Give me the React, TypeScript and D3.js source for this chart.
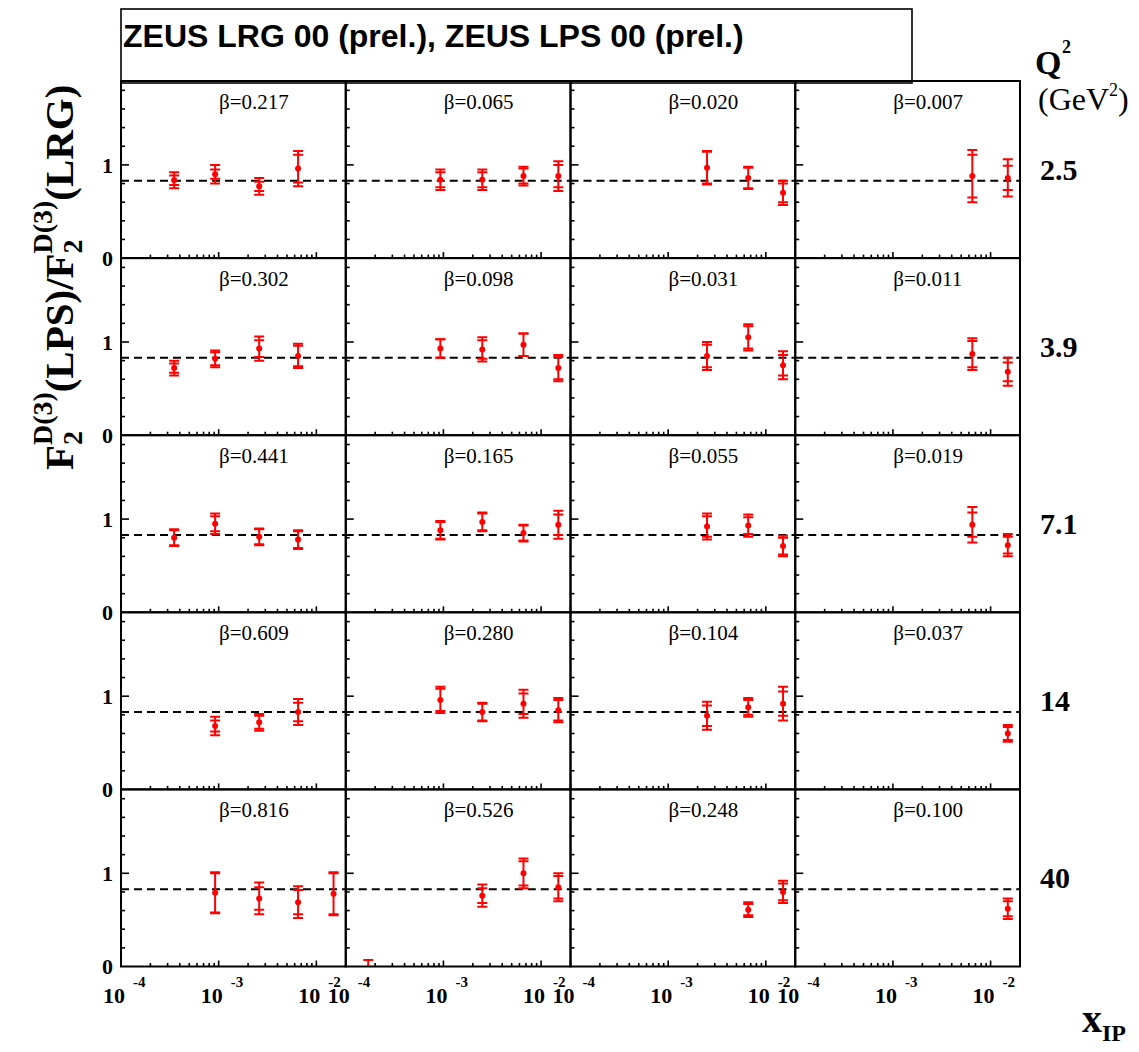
import React from 'react';
import * as d3 from 'd3';

// ---- chart data ----
const q2Labels = ['2.5', '3.9', '7.1', '14', '40'];
const betaLabels = [
  ['0.217', '0.065', '0.020', '0.007'],
  ['0.302', '0.098', '0.031', '0.011'],
  ['0.441', '0.165', '0.055', '0.019'],
  ['0.609', '0.280', '0.104', '0.037'],
  ['0.816', '0.526', '0.248', '0.100'],
];
// each point: [xIP, ratio LPS/LRG, stat error, total error]
const rowQ2_2p5 = [
  [[3.5e-4, 0.835, 0.05, 0.085], [9.2e-4, 0.9, 0.05, 0.1], [2.6e-3, 0.77, 0.05, 0.09], [6.5e-3, 0.96, 0.15, 0.19]],
  [[9.3e-4, 0.84, 0.08, 0.11], [2.5e-3, 0.84, 0.08, 0.11], [6.6e-3, 0.88, 0.08, 0.1], [1.5e-2, 0.88, 0.12, 0.16]],
  [[2.5e-3, 0.97, 0.17, 0.18], [6.6e-3, 0.86, 0.11, 0.12], [1.5e-2, 0.7, 0.1, 0.13]],
  [[6.5e-3, 0.88, 0.23, 0.28], [1.5e-2, 0.86, 0.13, 0.2]],
];
const rowQ2_3p9 = [
  [[3.5e-4, 0.72, 0.05, 0.08], [9.2e-4, 0.82, 0.07, 0.09], [2.6e-3, 0.93, 0.09, 0.13], [6.5e-3, 0.85, 0.11, 0.13]],
  [[9.3e-4, 0.93, 0.1, 0.1], [2.5e-3, 0.92, 0.1, 0.13], [6.6e-3, 0.97, 0.12, 0.12], [1.5e-2, 0.72, 0.12, 0.14]],
  [[2.5e-3, 0.85, 0.12, 0.15], [6.6e-3, 1.05, 0.12, 0.14], [1.5e-2, 0.75, 0.11, 0.15]],
  [[6.5e-3, 0.87, 0.14, 0.17], [1.5e-2, 0.68, 0.1, 0.15]],
];
const rowQ2_7p1 = [
  [[3.5e-4, 0.8, 0.08, 0.09], [9.2e-4, 0.95, 0.08, 0.11], [2.6e-3, 0.81, 0.08, 0.09], [6.5e-3, 0.78, 0.09, 0.1]],
  [[9.3e-4, 0.88, 0.09, 0.1], [2.5e-3, 0.97, 0.09, 0.1], [6.6e-3, 0.85, 0.08, 0.09], [1.5e-2, 0.94, 0.11, 0.15]],
  [[2.5e-3, 0.92, 0.11, 0.14], [6.6e-3, 0.93, 0.09, 0.12], [1.5e-2, 0.71, 0.09, 0.11]],
  [[6.5e-3, 0.94, 0.13, 0.19], [1.5e-2, 0.72, 0.09, 0.12]],
];
const rowQ2_14 = [
  [[9.2e-4, 0.68, 0.06, 0.1], [2.6e-3, 0.72, 0.07, 0.09], [6.5e-3, 0.83, 0.1, 0.14]],
  [[9.3e-4, 0.96, 0.12, 0.14], [2.5e-3, 0.83, 0.09, 0.1], [6.6e-3, 0.92, 0.11, 0.15], [1.5e-2, 0.85, 0.11, 0.13]],
  [[2.5e-3, 0.79, 0.11, 0.15], [6.6e-3, 0.88, 0.08, 0.1], [1.5e-2, 0.92, 0.13, 0.18]],
  [[1.5e-2, 0.6, 0.07, 0.09]],
];
const rowQ2_40 = [
  [[9.2e-4, 0.79, 0.21, 0.22], [2.6e-3, 0.73, 0.12, 0.17], [6.5e-3, 0.69, 0.13, 0.17], [1.5e-2, 0.78, 0.22, 0.23]],
  [[1.7e-4, -0.35, 0.3, 0.42], [2.5e-3, 0.76, 0.08, 0.12], [6.6e-3, 1.0, 0.13, 0.16], [1.5e-2, 0.85, 0.12, 0.15]],
  [[6.6e-3, 0.61, 0.06, 0.08], [1.5e-2, 0.8, 0.09, 0.12]],
  [[1.5e-2, 0.62, 0.08, 0.11]],
];
const rows = [rowQ2_2p5, rowQ2_3p9, rowQ2_7p1, rowQ2_14, rowQ2_40];
const refLine = 0.83;
const yTickLabels = ['0', '1'];
const xDecades = [-4, -3, -2];

// ---- layout ----
const left = 121;
const top = 81;
const colW = 224.75;
const rowH = 177.1;
const serif = '"Liberation Serif", "Times New Roman", serif';
const sans = '"Liberation Sans", Arial, sans-serif';
const red = '#ff0000';

function Panel({ r, c }: { r: number; c: number }) {
  const x0 = left + c * colW;
  const y0 = top + r * rowH;
  const x = d3.scaleLog().domain([1e-4, 0.02]).range([x0, x0 + colW]);
  const y = d3.scaleLinear().domain([0, 1.9]).range([y0 + rowH, y0]);
  const pts = rows[r][c];
  const clipId = `clip-${r}-${c}`;

  const yMinor = d3.range(1, 10).map(i => i * 0.2);
  const xMinor: number[] = [];
  xDecades.forEach(d => {
    for (let k = 2; k <= 9; k++) {
      const v = k * Math.pow(10, d);
      if (v < 0.02) xMinor.push(v);
    }
  });

  return (
    <g>
      <defs>
        <clipPath id={clipId}>
          <rect x={x0} y={y0} width={colW} height={rowH} />
        </clipPath>
      </defs>
      {/* left axis ticks */}
      {yMinor.map(v => (
        <line key={'yt' + v} x1={x0} x2={x0 + (Math.abs(v - 1) < 1e-6 ? 8 : 4)} y1={y(v)} y2={y(v)} stroke="#000" strokeWidth={1.6} />
      ))}
      {/* bottom axis ticks */}
      {xMinor.map(v => (
        <line key={'xt' + v} x1={x(v)} x2={x(v)} y1={y(0)} y2={y(0) - 3.5} stroke="#000" strokeWidth={1.6} />
      ))}
      {xDecades.map(d => (
        <line key={'xM' + d} x1={x(Math.pow(10, d))} x2={x(Math.pow(10, d))} y1={y(0)} y2={y(0) - 6} stroke="#000" strokeWidth={1.6} />
      ))}
      {/* reference dashed line */}
      <line x1={x0} x2={x0 + colW} y1={y(refLine)} y2={y(refLine)} stroke="#000" strokeWidth={2} strokeDasharray="8 5" />
      {/* data */}
      <g clipPath={`url(#${clipId})`}>
        {pts.map((p, i) => {
          const [xv, v, st, tot] = p;
          const px = x(xv);
          return (
            <g key={i} stroke={red} strokeWidth={2}>
              <line x1={px} x2={px} y1={y(v + tot)} y2={y(v - tot)} />
              {[v + st, v - st, v + tot, v - tot].map((e, j) => (
                <line key={j} x1={px - 5} x2={px + 5} y1={y(e)} y2={y(e)} />
              ))}
              <circle cx={px} cy={y(v)} r={3} fill={red} stroke="none" />
            </g>
          );
        })}
      </g>
      {/* frame */}
      <rect x={x0} y={y0} width={colW} height={rowH} fill="none" stroke="#000" strokeWidth={2} />
      {/* beta label */}
      <text x={x0 + 98} y={y0 + 28} fontFamily={serif} fontSize={21} fill="#000">
        β={betaLabels[r][c]}
      </text>
    </g>
  );
}

export default function App() {
  const W = 1139;
  const H = 1052;
  const bottom = top + 5 * rowH;
  const yAxis = d3.scaleLinear().domain([0, 1.9]).range([rowH, 0]);
  const S = 41;
  const sub = S * 0.68;

  return (
    <svg width={W} height={H} style={{ position: 'absolute', left: 0, top: 0, background: '#fff' }}>
      <rect x={0} y={0} width={W} height={H} fill="#fff" />
      {/* title box */}
      <rect x={121} y={9} width={791} height={74} fill="#fff" stroke="#000" strokeWidth={1.6} />
      <text x={123} y={47} fontFamily={sans} fontWeight="bold" fontSize={32} fill="#000">
        ZEUS LRG 00 (prel.), ZEUS LPS 00 (prel.)
      </text>

      {d3.range(5).map(r => d3.range(4).map(c => <Panel key={`${r}-${c}`} r={r} c={c} />))}

      {/* y tick labels */}
      {d3.range(5).map(r =>
        yTickLabels.map(t => (
          <text key={`yl${r}${t}`} x={113} y={top + r * rowH + yAxis(+t)} dy="0.35em" textAnchor="end"
            fontFamily={serif} fontWeight="bold" fontSize={22} fill="#000">{t}</text>
        ))
      )}

      {/* x tick labels */}
      {d3.range(4).map(c => {
        const x = d3.scaleLog().domain([1e-4, 0.02]).range([left + c * colW, left + (c + 1) * colW]);
        return xDecades.map(d => {
          const tx = x(Math.pow(10, d));
          return (
            <g key={`xl${c}${d}`} fontFamily={serif} fontWeight="bold" fill="#000">
              <text x={tx - 18} y={bottom + 36} fontSize={22}>10</text>
              <text x={tx + 12} y={bottom + 20} fontSize={15}>{'-' + Math.abs(d)}</text>
            </g>
          );
        });
      })}

      {/* Q2 labels */}
      {q2Labels.map((q, r) => (
        <text key={'q' + q} x={1040} y={top + r * rowH + 99} fontFamily={serif} fontWeight="bold" fontSize={30} fill="#000">{q}</text>
      ))}
      <text x={1035} y={74} fontFamily={serif} fontWeight="bold" fontSize={34} fill="#000">Q</text>
      <text x={1062} y={53} fontFamily={serif} fontWeight="bold" fontSize={18} fill="#000">2</text>
      <text x={1038} y={110} fontFamily={serif} fontSize={32} fill="#000">
        (GeV<tspan dy={-14} fontSize={18}>2</tspan><tspan dy={14}>)</tspan>
      </text>

      {/* x axis title */}
      <text x={1082} y={1032} fontFamily={serif} fontWeight="bold" fontSize={40} fill="#000">
        x<tspan dy={9} fontSize={24}>IP</tspan>
      </text>

      {/* y axis title */}
      <text transform="translate(73,470) rotate(-90)" fontFamily={serif} fontWeight="bold" fontSize={S} fill="#000">
        F<tspan dy={9} fontSize={sub}>2</tspan>
        <tspan dx={-sub * 0.5} dy={-30} fontSize={sub}>D(3)</tspan>
        <tspan dy={21}>(LPS)/F</tspan>
        <tspan dy={9} fontSize={sub}>2</tspan>
        <tspan dx={-sub * 0.5} dy={-30} fontSize={sub}>D(3)</tspan>
        <tspan dy={21}>(LRG)</tspan>
      </text>
    </svg>
  );
}
